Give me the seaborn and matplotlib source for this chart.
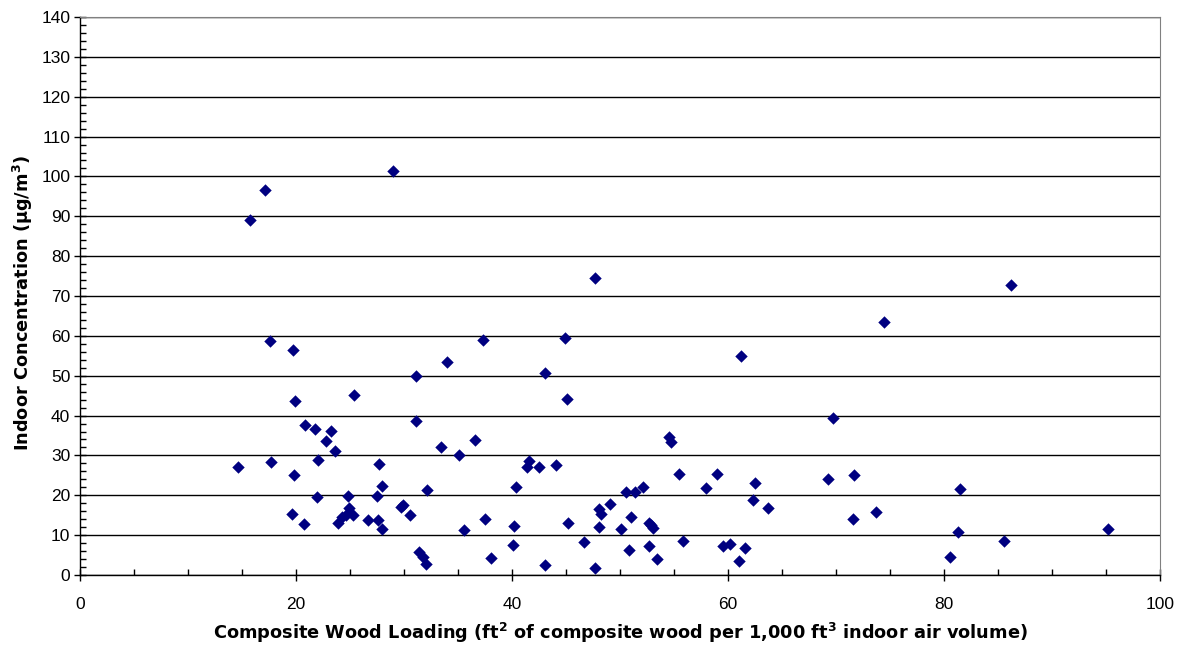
import numpy as np
import pandas as pd
import seaborn as sns
import matplotlib.pyplot as plt
from matplotlib.ticker import MultipleLocator

# ======================
# Data
# ======================

wood_loading = [
    14.6, 15.7, 17.1, 17.6, 17.7, 19.6, 19.7, 19.8, 19.9, 20.7,
    20.8, 21.8, 21.9, 22.0, 22.8, 23.2, 23.6, 23.9, 24.3, 24.6,
    24.8, 24.9, 25.3, 25.4, 26.7, 27.5, 27.6, 27.7, 28.0, 28.0,
    29.0, 29.7, 29.9, 30.6, 31.1, 31.1, 31.4, 31.8, 32.0, 32.1,
    33.4, 33.95, 35.1, 35.6, 36.6, 37.3, 37.5, 38.1, 40.1, 40.2,
    40.4, 41.4, 41.6, 42.5, 43.1, 43.1, 44.1, 44.9, 45.1, 45.2,
    46.7, 47.7, 47.7, 48.1, 48.2, 48.1, 49.1, 50.1, 50.6, 50.8,
    51.0, 51.4, 52.1, 52.7, 52.9, 53.1, 52.7, 53.4, 54.5, 54.7,
    55.5, 55.8, 58.0, 59.0, 59.5, 60.2, 61.0, 61.2, 61.6, 62.3,
    62.5, 63.7, 69.3, 69.7, 71.6, 71.7, 73.7, 74.4, 80.6, 81.3,
    81.5, 85.6, 86.2, 95.2,
]

concentration = [
    27.0, 89.1, 96.7, 58.7, 28.4, 15.4, 56.4, 25.1, 43.7, 12.7,
    37.7, 36.7, 19.6, 28.8, 33.5, 36.2, 31.0, 13.1, 14.6, 15.0,
    19.7, 16.9, 15.1, 45.2, 13.8, 19.7, 13.8, 27.8, 22.3, 11.5,
    101.4, 17.0, 17.6, 15.1, 49.9, 38.6, 5.8, 4.6, 2.8, 21.3,
    32.2, 53.4, 30.0, 11.2, 33.8, 59.0, 14.1, 4.3, 7.5, 12.4,
    22.0, 27.0, 28.6, 27.0, 50.6, 2.5, 27.5, 59.5, 44.1, 13.1,
    8.4, 74.5, 1.8, 16.6, 15.3, 12.1, 17.8, 11.5, 20.8, 6.2,
    14.5, 20.7, 22.0, 13.1, 12.5, 11.7, 7.2, 3.9, 34.7, 33.3,
    25.3, 8.6, 21.8, 25.3, 7.3, 7.8, 3.6, 55.0, 6.7, 18.8,
    23.2, 16.7, 24.2, 39.5, 14.1, 25.2, 15.9, 63.5, 4.4, 10.9,
    21.6, 8.6, 72.7, 11.6,
]

df = pd.DataFrame({
    "loading": wood_loading,
    "conc": concentration
})

# ======================
# Plot
# ======================

sns.set_style("white")
plt.rcParams["font.family"] = ["DejaVu Sans"]
plt.rcParams["text.color"] = "black"
plt.rcParams["axes.labelcolor"] = "black"

fig = plt.figure(figsize=(11.85, 6.47), dpi=100)
ax = fig.add_axes([80 / 1185, 1 - 575 / 647, 1080 / 1185, 558 / 647])

sns.scatterplot(
    data=df,
    x="loading",
    y="conc",
    marker="D",
    s=40,
    color="#000080",
    edgecolor="#000080",
    linewidth=0,
    ax=ax,
    zorder=3
)

ax.set_xlim(0, 100)
ax.set_ylim(0, 140)

ax.xaxis.set_major_locator(MultipleLocator(20))
ax.xaxis.set_minor_locator(MultipleLocator(5))
ax.yaxis.set_major_locator(MultipleLocator(10))
ax.yaxis.set_minor_locator(MultipleLocator(2))

ax.yaxis.grid(True, which="major", color="black", linewidth=1)
ax.set_axisbelow(True)

ax.tick_params(axis="both", which="major", direction="inout",
               length=8, width=1, color="black",
               labelsize=12.5, labelcolor="black",
               labelfontfamily="Liberation Sans")
ax.tick_params(axis="both", which="minor", direction="in",
               length=4, width=1, color="black")
ax.tick_params(axis="x", which="major", pad=12)
ax.tick_params(axis="y", which="major", pad=3)
ax.tick_params(left=True, bottom=True, which="both")

for side in ["left", "bottom"]:
    ax.spines[side].set_color("black")
    ax.spines[side].set_linewidth(1)
ax.spines["right"].set_color("#808080")
ax.spines["top"].set_color("#808080")

ax.set_xlabel(
    r"Composite Wood Loading (ft$^\mathbf{2}$ of composite wood per 1,000 ft$^\mathbf{3}$ indoor air volume)",
    fontsize=12.8,
    fontweight="bold",
    labelpad=6
)
ax.set_ylabel(
    r"Indoor Concentration (µg/m$^\mathbf{3}$)",
    fontsize=12.8,
    fontweight="bold"
)
ax.yaxis.set_label_coords(-0.042, 0.487)

fig.savefig("out.png", dpi=100)
plt.close()
